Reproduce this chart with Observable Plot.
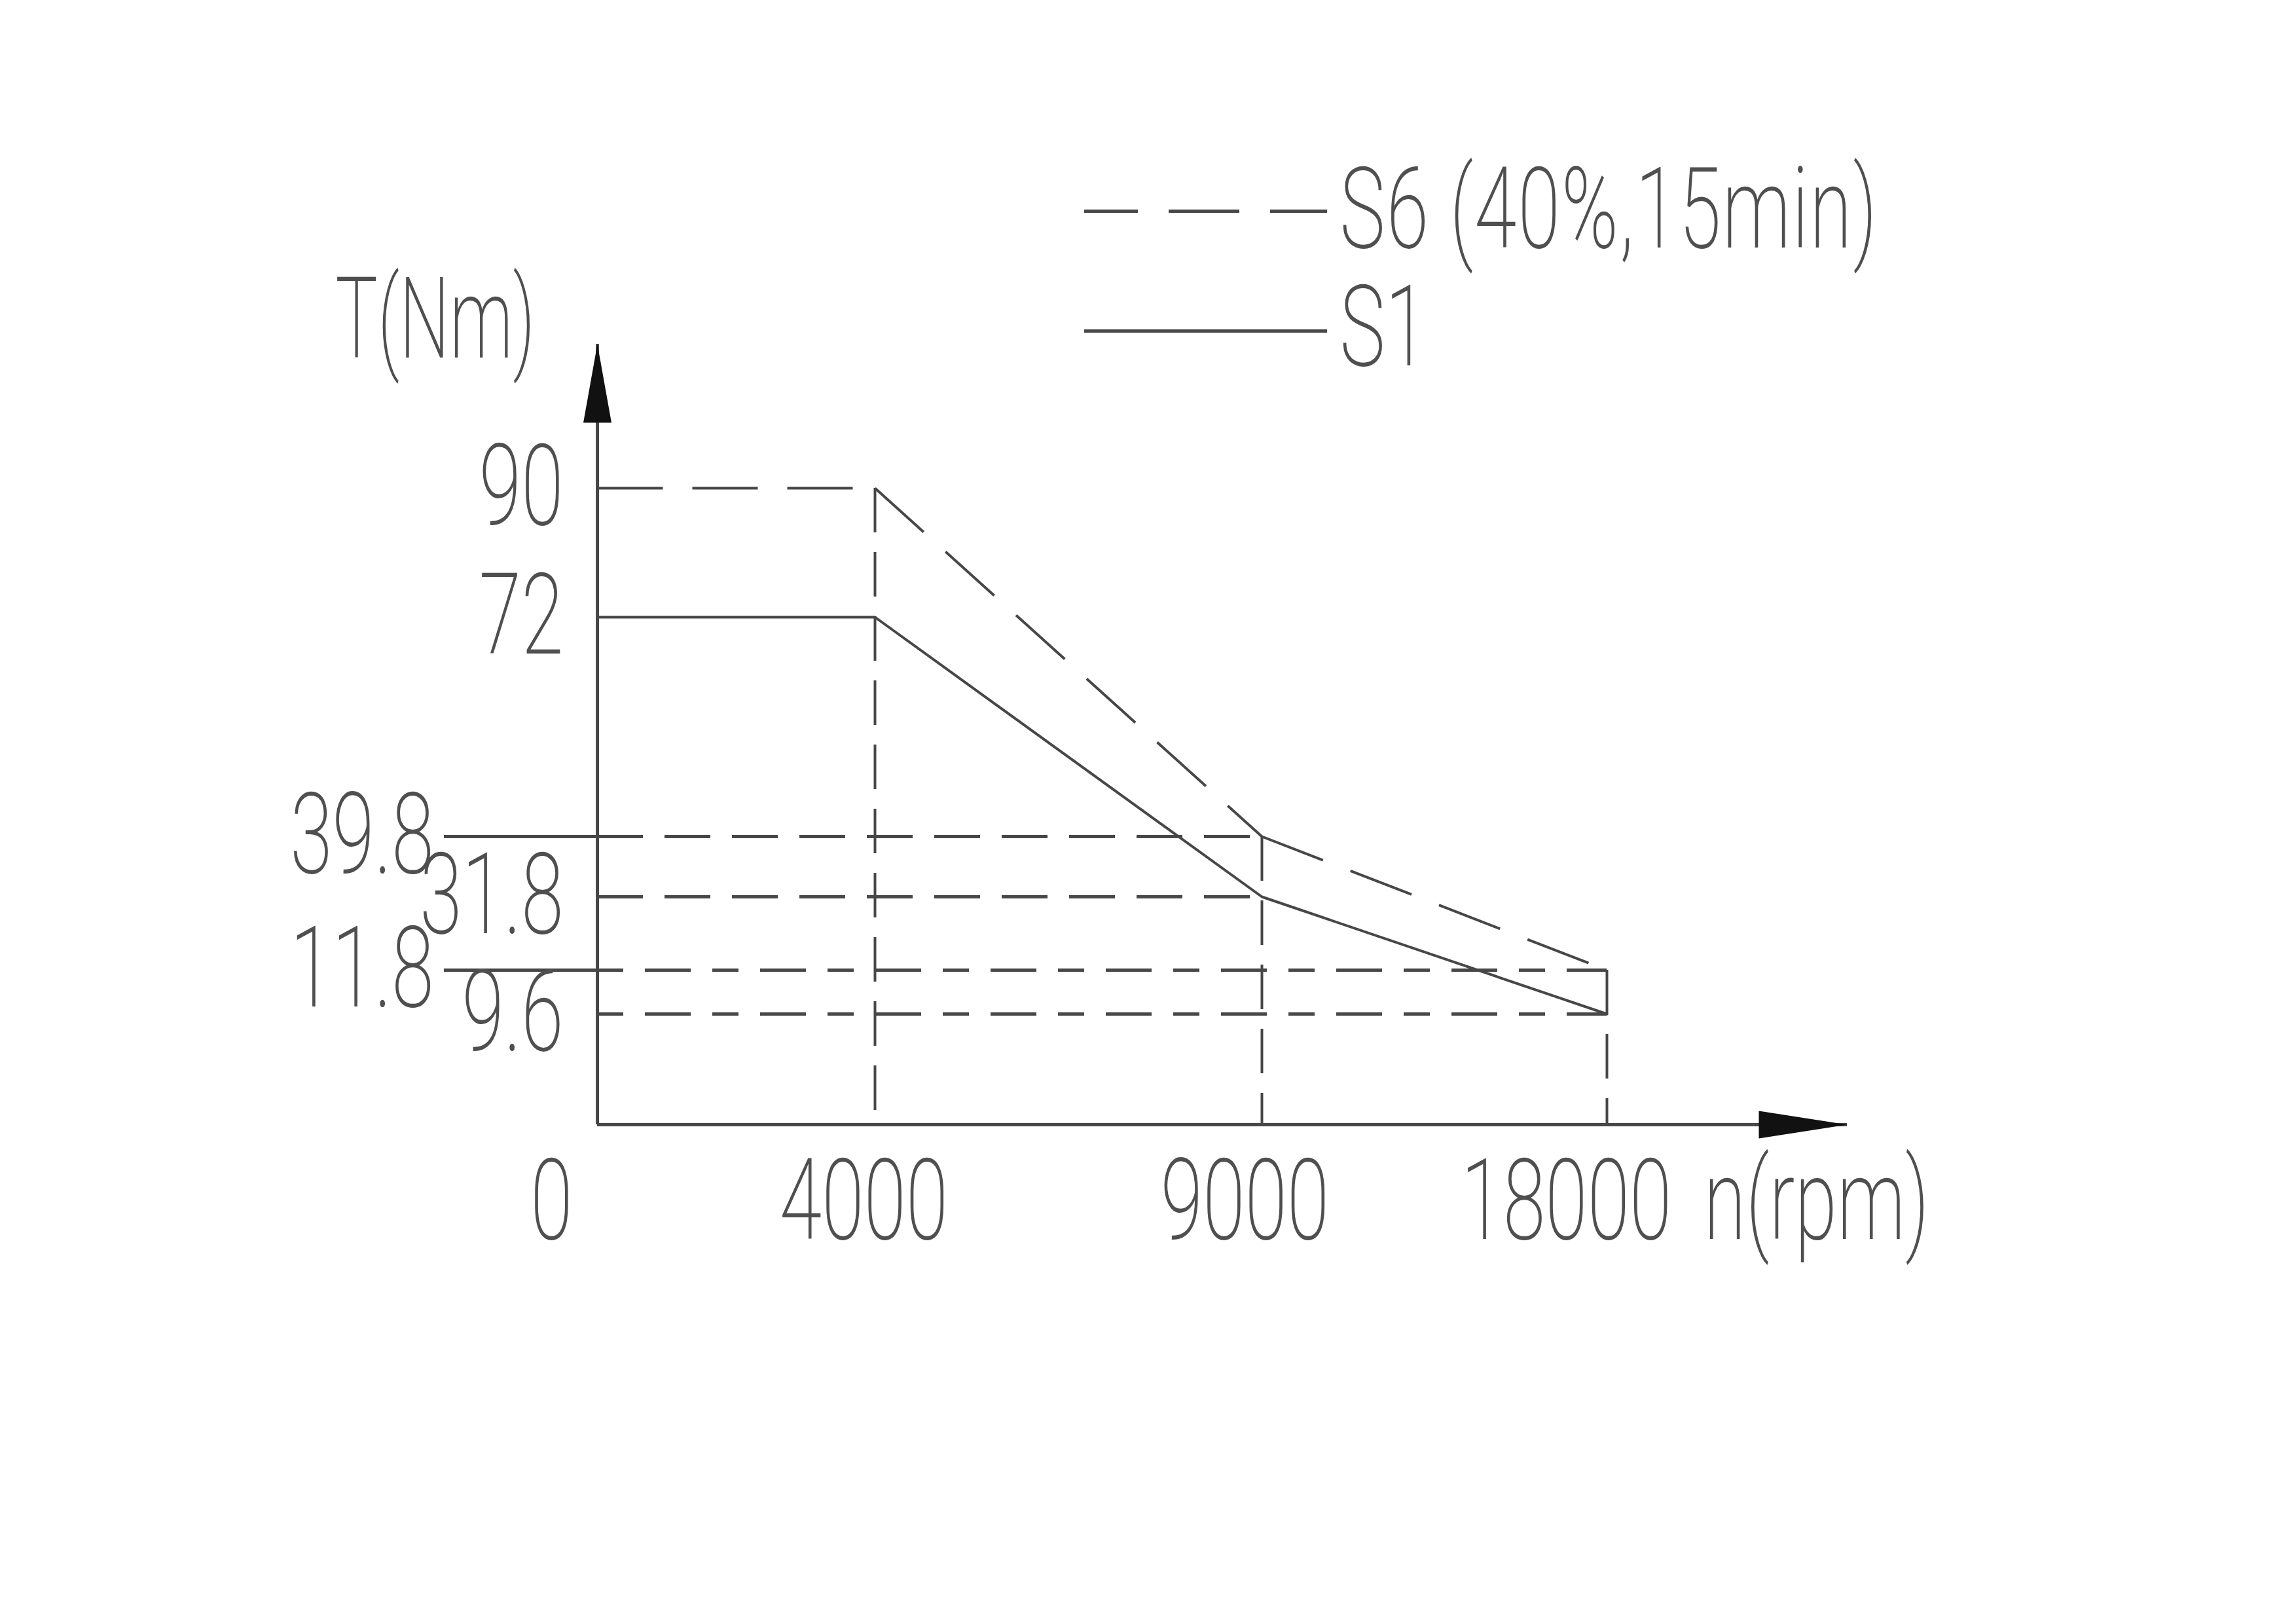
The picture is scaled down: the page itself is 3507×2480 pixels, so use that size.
<!DOCTYPE html>
<html>
<head>
<meta charset="utf-8">
<script src="https://cdn.jsdelivr.net/npm/d3@7"></script>
<script src="https://cdn.jsdelivr.net/npm/@observablehq/plot@0.6"></script>
<style>
  html, body { margin: 0; padding: 0; background: #fff; }
</style>
</head>
<body>
<div id="chart"></div>
<script>
// ---------------- data ----------------
const speedRpm  = [0, 4000, 9000, 18000];
const torqueS6  = [90, 90, 39.8, 11.8];
const torqueS1  = [72, 72, 31.8, 9.6];
const xTickValues = [0, 4000, 9000, 18000];
const yTickValues = [9.6, 11.8, 31.8, 39.8, 72, 90];
const seriesNames = ["S6 (40%,15min)", "S1"];
const xAxisLabel = "n(rpm)";
const yAxisLabel = "T(Nm)";

// ---------------- layout ----------------
const W = 3507, H = 2480;
const frame = {left: 912, right: 2821, top: 525, bottom: 1717};
const xRange = [912, 1336, 1927, 2454];                       // schematic (non-uniform) axis
const yRange = [1717, 1548, 1481, 1369, 1277, 942, 745];
const ink = "#474747";
const textInk = "#4f4f4f";
const FS = 172;
const FW = 200;
const SX = 0.68; // horizontal compression of the CAD-like lettering

const s6 = speedRpm.map((n, i) => ({n, T: torqueS6[i], i}));
const s1 = speedRpm.map((n, i) => ({n, T: torqueS1[i], i}));
const segs = pts => pts.slice(1).map((p, k) => ({n1: pts[k].n, T1: pts[k].T, n2: p.n, T2: p.T}));

const guides9000 = [s6[2], s1[2]];
const guides18000 = [s6[3], s1[3]];
const farLeft = new Set([torqueS6[2], torqueS6[3]]);
const xLabelDx = {0: -70, 4000: -17, 9000: -26, 18000: -62};

const upArrow = {draw(ctx) { ctx.moveTo(0, 0); ctx.lineTo(21.5, 120); ctx.lineTo(-21.5, 120); ctx.closePath(); }};
const rightArrow = {draw(ctx) { ctx.moveTo(0, 0); ctx.lineTo(-135, -21); ctx.lineTo(-135, 21); ctx.closePath(); }};

const legendMid = (frame.top + frame.bottom) / 2;
const textBase = {fill: textInk, fontSize: FS, fontWeight: FW};

const marks = [
  // vertical dashed guides (speed breakpoints)
  Plot.ruleX(s6.slice(1), {x: "n", y1: "T", y2: 0, stroke: ink, strokeWidth: 4, strokeDasharray: "68,30"}),
  // horizontal dashed guides
  Plot.ruleY(guides9000, {y: "T", x1: 0, x2: "n", stroke: ink, strokeWidth: 5, strokeDasharray: "70,33"}),
  Plot.ruleY(guides18000, {y: "T", x1: 0, x2: "n", stroke: ink, strokeWidth: 5, strokeDasharray: "40,33,70,33"}),
  // solid leader lines left of the axis
  Plot.ruleY(s6.slice(2), {y: "T", x1: 0, x2: 0, insetLeft: -234, stroke: ink, strokeWidth: 5}),
  // S6 curve (dashed) drawn segment by segment
  Plot.link(segs(s6), {x1: "n1", y1: "T1", x2: "n2", y2: "T2", stroke: ink, strokeWidth: 4, strokeDasharray: "100,45"}),
  // S1 curve (solid)
  Plot.line(s1, {x: "n", y: "T", stroke: ink, strokeWidth: 4}),
  // axes
  Plot.ruleX([0], {stroke: ink, strokeWidth: 5}),
  Plot.ruleY([0], {stroke: ink, strokeWidth: 5}),
  Plot.dot([0], {frameAnchor: "top-left", symbol: upArrow, fill: "#111", stroke: "none"}),
  Plot.dot([0], {frameAnchor: "bottom-right", symbol: rightArrow, fill: "#111", stroke: "none"}),
  // y tick labels
  Plot.text(yTickValues.filter(v => !farLeft.has(v)), {x: 0, y: d => d, text: d => String(d), textAnchor: "end", dx: -52, ...textBase}),
  Plot.text(yTickValues.filter(v => farLeft.has(v)), {x: 0, y: d => d, text: d => String(d), textAnchor: "end", dx: -250, ...textBase}),
  // x tick labels
  ...xTickValues.map(v => Plot.text([v], {x: d => d, y: 0, text: d => String(d), textAnchor: "middle", dx: xLabelDx[v], dy: 119, ...textBase})),
  // axis titles
  Plot.text([xAxisLabel], {x: xTickValues[xTickValues.length - 1], y: 0, textAnchor: "start", dx: 148, dy: 119, ...textBase}),
  Plot.text([yAxisLabel], {frameAnchor: "top-left", textAnchor: "end", lineAnchor: "middle", dx: -95, dy: -35, ...textBase}),
  // legend
  Plot.ruleY([seriesNames[0]], {y: null, insetLeft: 1656 - frame.left, insetRight: frame.right - 2027, dy: 322 - legendMid, stroke: ink, strokeWidth: 5, strokeDasharray: "108,47", strokeDashoffset: 26}),
  Plot.ruleY([seriesNames[1]], {y: null, insetLeft: 1656 - frame.left, insetRight: frame.right - 2027, dy: 505 - legendMid, stroke: ink, strokeWidth: 5}),
  Plot.text([seriesNames[0]], {frameAnchor: "top-left", textAnchor: "start", lineAnchor: "middle", dx: 2046 - frame.left, dy: 322 - frame.top, ...textBase}),
  Plot.text([seriesNames[1]], {frameAnchor: "top-left", textAnchor: "start", lineAnchor: "middle", dx: 2046 - frame.left, dy: 502 - frame.top, ...textBase})
];

const chart = Plot.plot({
  width: W, height: H,
  marginLeft: frame.left, marginRight: W - frame.right,
  marginTop: frame.top, marginBottom: H - frame.bottom,
  style: {background: "#fff", fontFamily: "Roboto, 'DejaVu Sans', sans-serif", color: ink},
  x: {type: "linear", domain: xTickValues, range: xRange, axis: null},
  y: {type: "linear", domain: [0, ...yTickValues], range: yRange, axis: null},
  marks
});

// condense the lettering horizontally around each text's anchor point
chart.querySelectorAll("text").forEach(t => {
  const content = t.textContent;
  const sx = content === yAxisLabel ? 0.63 : SX;
  if (content === seriesNames[0]) t.setAttribute("letter-spacing", "3");
  const x = t.getAttribute("x");
  if (x != null && !isNaN(+x)) t.setAttribute("x", +x / sx);
  const tr = t.getAttribute("transform") || "";
  t.setAttribute("transform", (tr + ` scale(${sx},1)`).trim());
});

document.getElementById("chart").appendChild(chart);
</script>
</body>
</html>
